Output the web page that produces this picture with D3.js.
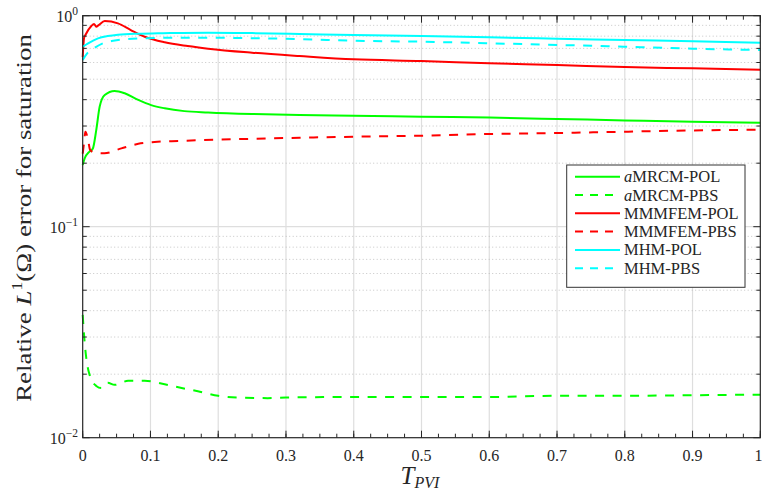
<!DOCTYPE html>
<html>
<head>
<meta charset="utf-8">
<script src="https://cdn.jsdelivr.net/npm/d3@7"></script>
<style>
  body { margin: 0; background: #fff; }
  svg { display: block; font-family: "Liberation Serif", "DejaVu Serif", serif; }
</style>
</head>
<body>
<div id="chart"></div>
<script>
// series: time (T_PVI) and relative error
var mrcmPolT = [0, 0.003, 0.010, 0.015, 0.020, 0.025, 0.0325, 0.047, 0.062, 0.082, 0.101, 0.121, 0.15, 0.185, 0.25, 0.32, 0.4, 0.5, 0.6, 0.7, 0.8, 0.9, 1];
var mrcmPolV = [0.196, 0.211, 0.227, 0.235, 0.287, 0.370, 0.421, 0.440, 0.429, 0.399, 0.377, 0.364, 0.353, 0.348, 0.342, 0.338, 0.336, 0.332, 0.329, 0.324, 0.319, 0.314, 0.311];

var mrcmPbsT = [0, 0.003, 0.0053, 0.0103, 0.02, 0.0275, 0.037, 0.047, 0.067, 0.0915, 0.121, 0.146, 0.17, 0.2, 0.229, 0.273, 0.3, 0.4, 0.5, 0.6, 0.7, 0.8, 0.9, 1];
var mrcmPbsV = [0.0382, 0.028, 0.0238, 0.0198, 0.0176, 0.0172, 0.0182, 0.0178, 0.0186, 0.0186, 0.0179, 0.0172, 0.0166, 0.0158, 0.0155, 0.0154, 0.0155, 0.0156, 0.0156, 0.0156, 0.0158, 0.0158, 0.0159, 0.016];

var femPolT = [0, 0.002, 0.004, 0.0127, 0.0167, 0.020, 0.0236, 0.0325, 0.052, 0.071, 0.0915, 0.121, 0.155, 0.185, 0.25, 0.32, 0.4, 0.5, 0.6, 0.7, 0.8, 0.9, 1];
var femPolV = [0.637, 0.784, 0.81, 0.894, 0.913, 0.887, 0.903, 0.944, 0.92, 0.855, 0.795, 0.748, 0.718, 0.698, 0.668, 0.644, 0.621, 0.61, 0.595, 0.584, 0.571, 0.563, 0.555];

var femPbsT = [0, 0.002, 0.004, 0.008, 0.011, 0.018, 0.032, 0.057, 0.082, 0.106, 0.141, 0.175, 0.25, 0.32, 0.4, 0.5, 0.6, 0.7, 0.8, 0.9, 1];
var femPbsV = [0.222, 0.25, 0.282, 0.257, 0.231, 0.224, 0.223, 0.235, 0.247, 0.252, 0.255, 0.257, 0.261, 0.264, 0.267, 0.27, 0.275, 0.278, 0.282, 0.286, 0.288];

var mhmPolT = [0, 0.008, 0.0226, 0.037, 0.052, 0.082, 0.111, 0.185, 0.25, 0.32, 0.4, 0.5, 0.6, 0.7, 0.8, 0.9, 1];
var mhmPolV = [0.713, 0.74, 0.781, 0.801, 0.813, 0.822, 0.825, 0.831, 0.827, 0.819, 0.81, 0.801, 0.79, 0.778, 0.767, 0.756, 0.745];

var mhmPbsT = [0, 0.006, 0.015, 0.03, 0.045, 0.06, 0.09, 0.14, 0.185, 0.25, 0.32, 0.4, 0.5, 0.6, 0.7, 0.8, 0.9, 1];
var mhmPbsV = [0.617, 0.66, 0.695, 0.74, 0.761, 0.773, 0.781, 0.787, 0.787, 0.782, 0.775, 0.761, 0.753, 0.74, 0.727, 0.713, 0.698, 0.688];

var seriesNames = ["MRCM-POL", "MRCM-PBS", "MMMFEM-POL", "MMMFEM-PBS", "MHM-POL", "MHM-PBS"];
var seriesPrefix = ["a", "a", "", "", "", ""];
var xTicks = [0, 0.1, 0.2, 0.3, 0.4, 0.5, 0.6, 0.7, 0.8, 0.9, 1];
var xTickLabels = ["0", "0.1", "0.2", "0.3", "0.4", "0.5", "0.6", "0.7", "0.8", "0.9", "1"];
var yTicks = [1, 0.1, 0.01];
var yTickExp = ["0", "\u22121", "\u22122"];

var series = [
  {t: mrcmPolT, v: mrcmPolV, color: "#00ff00", dash: null},
  {t: mrcmPbsT, v: mrcmPbsV, color: "#00ff00", dash: "9,8.5"},
  {t: femPolT, v: femPolV, color: "#ff0000", dash: null},
  {t: femPbsT, v: femPbsV, color: "#ff0000", dash: "9,8.5"},
  {t: mhmPolT, v: mhmPolV, color: "#00ffff", dash: null},
  {t: mhmPbsT, v: mhmPbsV, color: "#00ffff", dash: "9,8.5"}
];

var W = 762, H = 494;
var L = 82.7, R = 760.3, T = 15.7, B = 437.7;

var svg = d3.select("#chart").append("svg")
  .attr("width", W).attr("height", H);

var x = d3.scaleLinear().domain([0, 1]).range([L, R]);
var y = d3.scaleLog().domain([0.01, 1]).range([B, T]);

// grid
var minorY = y.ticks().filter(function(d) { return yTicks.indexOf(d) < 0; });
var grid = svg.append("g");
grid.selectAll("line.gx").data(xTicks.slice(1, -1)).enter().append("line")
  .attr("x1", function(d) { return x(d); }).attr("x2", function(d) { return x(d); })
  .attr("y1", T).attr("y2", B)
  .attr("stroke", "#dedede").attr("stroke-width", 1.2);
grid.selectAll("line.gym").data(minorY).enter().append("line")
  .attr("x1", L).attr("x2", R)
  .attr("y1", function(d) { return y(d); }).attr("y2", function(d) { return y(d); })
  .attr("stroke", "#b8b8b8").attr("stroke-width", 0.8).attr("stroke-dasharray", "1,2.5");
grid.selectAll("line.gy").data([0.1]).enter().append("line")
  .attr("x1", L).attr("x2", R)
  .attr("y1", function(d) { return y(d); }).attr("y2", function(d) { return y(d); })
  .attr("stroke", "#dedede").attr("stroke-width", 1.2);

// curves
var line = d3.line()
  .x(function(d) { return x(d[0]); })
  .y(function(d) { return y(d[1]); })
  .curve(d3.curveMonotoneX);

var plot = svg.append("g");
series.forEach(function(s) {
  var pts = s.t.map(function(t, i) { return [t, s.v[i]]; });
  plot.append("path")
    .attr("d", line(pts))
    .attr("fill", "none")
    .attr("stroke", s.color)
    .attr("stroke-width", 2)
    .attr("stroke-dasharray", s.dash);
});

// axes (ticks pointing inside)
var axisColor = "#262626";
var minorX = d3.range(0, 1.0001, 0.025);
function tickLines(g, data, pos, len, horiz) {
  g.selectAll(null).data(data).enter().append("line")
    .attr("x1", function(d) { return horiz ? x(d) : pos; })
    .attr("x2", function(d) { return horiz ? x(d) : pos + len; })
    .attr("y1", function(d) { return horiz ? pos : y(d); })
    .attr("y2", function(d) { return horiz ? pos + len : y(d); })
    .attr("stroke", axisColor).attr("stroke-width", 1);
}
var ax = svg.append("g");
tickLines(ax, minorX, B, -4, true);
tickLines(ax, minorX, T, 4, true);
tickLines(ax, xTicks, B, -7, true);
tickLines(ax, xTicks, T, 7, true);
tickLines(ax, minorY, L, 4, false);
tickLines(ax, minorY, R, -4, false);
tickLines(ax, yTicks, L, 7, false);
tickLines(ax, yTicks, R, -7, false);

ax.append("rect")
  .attr("x", L).attr("y", T).attr("width", R - L).attr("height", B - T)
  .attr("fill", "none").attr("stroke", axisColor).attr("stroke-width", 1.2);

// tick labels
svg.append("g").selectAll("text").data(xTicks).enter().append("text")
  .attr("x", function(d) { return Math.min(x(d), W - 3.5); })
  .attr("y", 460.5)
  .attr("text-anchor", "middle")
  .attr("font-size", 16)
  .attr("fill", axisColor)
  .text(function(d, i) { return xTickLabels[i]; });

var yl = svg.append("g").selectAll("text").data(yTicks).enter().append("text")
  .attr("x", 78)
  .attr("y", function(d) { return y(d) + 6; })
  .attr("text-anchor", "end")
  .attr("font-size", 16)
  .attr("fill", axisColor);
yl.append("tspan").text("10");
yl.append("tspan").attr("dy", -7).attr("font-size", 11.5)
  .text(function(d, i) { return yTickExp[i]; });

// axis titles
var xt = svg.append("text")
  .attr("x", 420).attr("y", 484)
  .attr("text-anchor", "middle")
  .attr("fill", axisColor);
xt.append("tspan").attr("font-size", 25).attr("font-style", "italic").text("T");
xt.append("tspan").attr("font-size", 16).attr("font-style", "italic").attr("dy", 4).text("PVI");

var yt = svg.append("text")
  .attr("transform", "translate(31,218) rotate(-90) scale(1.28,1)")
  .attr("text-anchor", "middle")
  .attr("font-size", 21)
  .attr("fill", axisColor);
yt.append("tspan").text("Relative ");
yt.append("tspan").attr("font-style", "italic").text("L");
yt.append("tspan").attr("font-size", 14).attr("dy", -9).text("1");
yt.append("tspan").attr("dy", 9).text("(\u03A9) error for saturation");

// legend
var lg = svg.append("g");
lg.append("rect")
  .attr("x", 566.7).attr("y", 165).attr("width", 178.3).attr("height", 122.3)
  .attr("fill", "#fff").attr("stroke", "#333").attr("stroke-width", 1);
var row = lg.selectAll("g.row").data(series).enter().append("g")
  .attr("transform", function(d, i) { return "translate(0," + (176.7 + i * 18.3) + ")"; });
row.append("line")
  .attr("x1", 575).attr("x2", 620).attr("y1", 0).attr("y2", 0)
  .attr("stroke", function(d) { return d.color; })
  .attr("stroke-width", 2)
  .attr("stroke-dasharray", function(d) { return d.dash ? "8,7" : null; });
var lt = row.append("text")
  .attr("x", 624).attr("y", 5.5)
  .attr("font-size", 16.5)
  .attr("fill", "#262626");
lt.append("tspan").attr("font-style", "italic")
  .text(function(d, i) { return seriesPrefix[i]; });
lt.append("tspan").text(function(d, i) { return seriesNames[i]; });
</script>
</body>
</html>
